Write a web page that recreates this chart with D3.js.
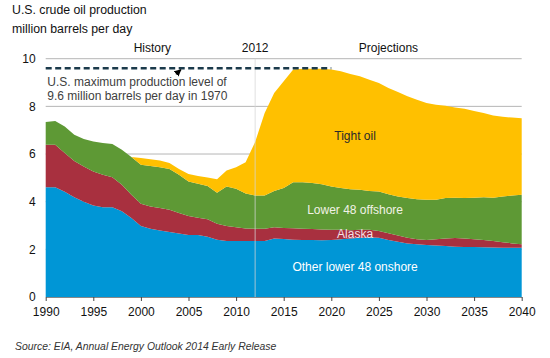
<!DOCTYPE html>
<html>
<head>
<meta charset="utf-8">
<script src="https://cdn.jsdelivr.net/npm/d3@7"></script>
<style>
  body { margin: 0; background: #fff; }
  svg text { font-family: "Liberation Sans", Arial, sans-serif; }
</style>
</head>
<body>
<div id="chart"></div>
<script>
// ! Data (million barrels per day)
const years = d3.range(1990, 2041);

const onshore = [
  4.61, 4.61, 4.42, 4.19, 4.0, 3.84, 3.77, 3.77, 3.6, 3.31,
  2.98, 2.86, 2.79, 2.73, 2.66, 2.6, 2.6, 2.53, 2.4, 2.35,
  2.35, 2.35, 2.35, 2.35, 2.46, 2.43, 2.4, 2.39, 2.39, 2.38,
  2.39, 2.42, 2.46, 2.49, 2.51, 2.49, 2.39, 2.32, 2.25, 2.21,
  2.18, 2.16, 2.14, 2.11, 2.1, 2.1, 2.09, 2.08, 2.07, 2.07, 2.07
];

const alaska = [
  1.78, 1.78, 1.62, 1.52, 1.48, 1.43, 1.36, 1.26, 1.11, 0.98,
  0.93, 0.94, 0.94, 0.93, 0.86, 0.8, 0.73, 0.73, 0.67, 0.63,
  0.58, 0.52, 0.51, 0.51, 0.47, 0.47, 0.49, 0.47, 0.46, 0.45,
  0.43, 0.4, 0.34, 0.33, 0.31, 0.28, 0.29, 0.26, 0.24, 0.21,
  0.21, 0.26, 0.32, 0.37, 0.36, 0.32, 0.3, 0.27, 0.23, 0.18, 0.14
];

const offshore = [
  0.95, 1.0, 1.12, 1.1, 1.15, 1.26, 1.33, 1.39, 1.47, 1.58,
  1.64, 1.7, 1.72, 1.71, 1.61, 1.45, 1.42, 1.4, 1.31, 1.66,
  1.61, 1.47, 1.4, 1.4, 1.52, 1.67, 1.93, 1.96, 1.93, 1.9,
  1.82, 1.75, 1.72, 1.68, 1.63, 1.66, 1.63, 1.64, 1.66, 1.68,
  1.69, 1.66, 1.69, 1.69, 1.69, 1.75, 1.8, 1.82, 1.92, 2.01, 2.08
];

const tightOil = [
  0, 0, 0, 0, 0, 0, 0, 0, 0, 0,
  0.28, 0.28, 0.28, 0.25, 0.24, 0.31, 0.33, 0.35, 0.56, 0.67,
  0.91, 1.31, 2.24, 3.46, 4.11, 4.48, 4.73, 4.76, 4.8, 4.85,
  4.91, 4.9, 4.84, 4.76, 4.67, 4.55, 4.46, 4.38, 4.27, 4.18,
  4.06, 3.99, 3.88, 3.78, 3.75, 3.64, 3.53, 3.45, 3.34, 3.27, 3.21
];

const xTicks = [1990, 1995, 2000, 2005, 2010, 2015, 2020, 2025, 2030, 2035, 2040];
const yTicks = [0, 2, 4, 6, 8, 10];
const maxLevel = 9.6; // 1970 peak
const maxLevelEnd = 2020;
const splitYear = 2012;

const seriesKeys = ["onshore", "alaska", "offshore", "tight"];
const seriesColors = {
  onshore: "#0096d6",
  alaska: "#a8303f",
  offshore: "#5e9935",
  tight: "#ffc000",
};
const seriesLabels = [
  { key: "tight", text: "Tight oil", year: 2022.5, value: 6.6, color: "#2a2a2a" },
  { key: "offshore", text: "Lower 48 offshore", year: 2022.5, value: 3.48, color: "#f2f2e6" },
  { key: "alaska", text: "Alaska", year: 2022.5, value: 2.46, color: "#f6dfe3" },
  { key: "onshore", text: "Other lower 48 onshore", year: 2022.5, value: 1.09, color: "#ffffff" },
];

// Build table for d3.stack
const table = years.map((yr, i) => ({
  year: yr,
  onshore: onshore[i],
  alaska: alaska[i],
  offshore: offshore[i],
  tight: tightOil[i],
}));

const width = 550;
const height = 358;

const svg = d3
  .select("#chart")
  .append("svg")
  .attr("width", width)
  .attr("height", height);

const x = d3.scaleLinear().domain([1990, 2040]).range([45.7, 521.7]);
const y = d3.scaleLinear().domain([0, 10]).range([297, 58.7]);

// Title
svg
  .append("text")
  .attr("x", 12)
  .attr("y", 14)
  .style("font-size", "12.3px")
  .attr("fill", "#111")
  .text("U.S. crude oil production");

svg
  .append("text")
  .attr("x", 12)
  .attr("y", 32.5)
  .style("font-size", "12.3px")
  .attr("fill", "#111")
  .text("million barrels per day");

// Gridlines
svg
  .append("g")
  .selectAll("line")
  .data(yTicks.filter((d) => d > 0))
  .enter()
  .append("line")
  .attr("x1", x(1990))
  .attr("x2", x(2040))
  .attr("y1", (d) => y(d))
  .attr("y2", (d) => y(d))
  .attr("stroke", "#b5b5b5")
  .attr("stroke-width", 1);

// Stacked areas
const stack = d3.stack().keys(seriesKeys);
const layers = stack(table);

const area = d3
  .area()
  .x((d) => x(d.data.year))
  .y0((d) => y(d[0]))
  .y1((d) => y(d[1]));

svg
  .append("g")
  .selectAll("path")
  .data(layers)
  .enter()
  .append("path")
  .attr("fill", (d) => seriesColors[d.key])
  .attr("d", area);

// 2012 divider
svg
  .append("line")
  .attr("x1", x(splitYear))
  .attr("x2", x(splitYear))
  .attr("y1", y(10))
  .attr("y2", y(0))
  .attr("stroke", "#d6d6d6")
  .attr("stroke-opacity", 0.75)
  .attr("stroke-width", 1);

// Period labels
const topLabels = [
  { text: "History", year: 2001.2 },
  { text: "2012", year: splitYear },
  { text: "Projections", year: 2026 },
];
svg
  .append("g")
  .selectAll("text")
  .data(topLabels)
  .enter()
  .append("text")
  .attr("x", (d) => x(d.year))
  .attr("y", 52)
  .attr("text-anchor", "middle")
  .style("font-size", "12px")
  .attr("fill", "#111")
  .text((d) => d.text);

// Max production dashed line
svg
  .append("line")
  .attr("x1", x(1990))
  .attr("x2", x(maxLevelEnd))
  .attr("y1", y(maxLevel))
  .attr("y2", y(maxLevel))
  .attr("stroke", "#1b3a4b")
  .attr("stroke-width", 2.4)
  .attr("stroke-dasharray", "6,3.5");

// Arrow pointing at the dashed line
const defs = svg.append("defs");
defs
  .append("marker")
  .attr("id", "arrowhead")
  .attr("viewBox", "0 0 10 10")
  .attr("refX", 9)
  .attr("refY", 5)
  .attr("markerWidth", 5)
  .attr("markerHeight", 5)
  .attr("orient", "auto")
  .append("path")
  .attr("d", "M0,0 L10,5 L0,10 z")
  .attr("fill", "#000");

const tipX = x(2004.2);
const tipY = y(maxLevel) + 1.5;
svg
  .append("line")
  .attr("x1", tipX - 5)
  .attr("y1", tipY + 4.5)
  .attr("x2", tipX)
  .attr("y2", tipY)
  .attr("stroke", "#000")
  .attr("stroke-width", 1.4)
  .attr("marker-end", "url(#arrowhead)");

// Annotation text
const note = svg
  .append("text")
  .attr("x", 47.3)
  .attr("y", 86)
  .style("font-size", "12px")
  .attr("fill", "#404040");
note.append("tspan").attr("x", 47.3).text("U.S. maximum production level of");
note.append("tspan").attr("x", 47.3).attr("dy", 14).text("9.6 million barrels per day in 1970");

// Series labels
svg
  .append("g")
  .selectAll("text")
  .data(seriesLabels)
  .enter()
  .append("text")
  .attr("x", (d) => x(d.year))
  .attr("y", (d) => y(d.value))
  .attr("text-anchor", "middle")
  .style("font-size", "12px")
  .attr("fill", (d) => d.color)
  .text((d) => d.text);

// X axis
const xAxis = svg
  .append("g")
  .attr("transform", `translate(0, ${y(0)})`)
  .call(
    d3
      .axisBottom(x)
      .tickValues(xTicks)
      .tickFormat(d3.format("d"))
      .tickSize(4)
      .tickSizeOuter(0)
      .tickPadding(6)
  );
xAxis.select(".domain").attr("stroke", "#888");
xAxis.selectAll(".tick line").attr("stroke", "#444");
xAxis
  .selectAll(".tick text")
  .style("font-size", "12px")
  .style("font-family", '"Liberation Sans", Arial, sans-serif')
  .attr("fill", "#111");

// Y axis labels
const yAxis = svg
  .append("g")
  .attr("transform", `translate(${x(1990)}, 0)`)
  .call(d3.axisLeft(y).tickValues(yTicks).tickSize(0).tickPadding(10));
yAxis.select(".domain").remove();
yAxis
  .selectAll(".tick text")
  .style("font-size", "12px")
  .style("font-family", '"Liberation Sans", Arial, sans-serif')
  .attr("fill", "#111");

// Source
const src = svg
  .append("text")
  .attr("x", 15)
  .attr("y", 350)
  .style("font-size", "10.4px")
  .style("font-style", "italic")
  .attr("fill", "#333");
src.append("tspan").text("Source:  EIA, Annual Energy Outlook 2014 Early Release");
</script>
</body>
</html>
